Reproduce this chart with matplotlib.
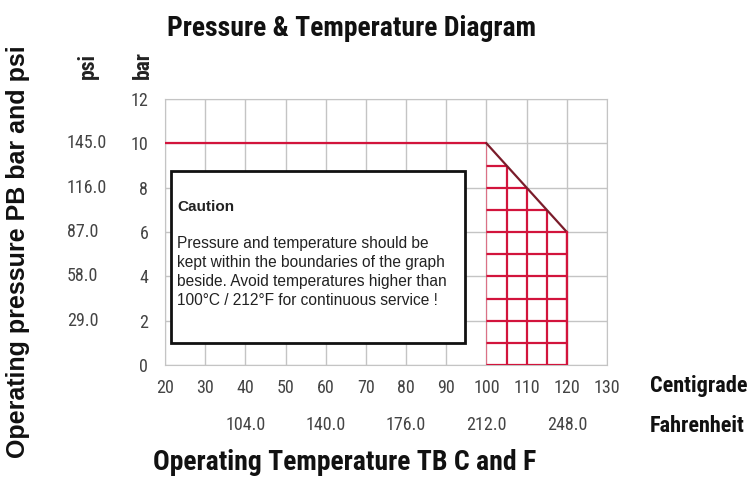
import matplotlib
matplotlib.use("Agg")
import matplotlib.pyplot as plt
import matplotlib.transforms as mtransforms
from matplotlib.patches import Polygon, Rectangle

# data
celsius_ticks = [20, 30, 40, 50, 60, 70, 80, 90, 100, 110, 120, 130]
fahrenheit_pos = [40, 60, 80, 100, 120]
fahrenheit_labels = ["104.0", "140.0", "176.0", "212.0", "248.0"]
bar_ticks = [0, 2, 4, 6, 8, 10, 12]
psi_pos = [10, 8, 6, 4, 2]
psi_labels = ["145.0", "116.0", "87.0", "58.0", "29.0"]

limit_temp = [20, 100, 120, 120]
limit_bar = [10, 10, 6, 0]
hatch_temp = [100, 105, 110, 115, 120]
hatch_bar = [0, 1, 2, 3, 4, 5, 6, 7, 8, 9]

caution_title = "Caution"
caution_lines = ["Pressure and temperature should be",
                 "kept within the boundaries of the graph",
                 "beside. Avoid temperatures higher than",
                 "100\u00b0C / 212\u00b0F for continuous service !"]

narrow = ["Roboto Condensed", "DejaVu Sans"]
sans = ["Liberation Sans", "DejaVu Sans"]
red = "#d2143c"
dark = "#7a1c2a"
grey = "#c4c4c4"
txt_col = "#444444"

fig = plt.figure(figsize=(7.56, 4.93), dpi=100)
ax = fig.add_axes([165/756, 1-365/493, 442/756, 266/493])

ax.set_xlim(20, 130)
ax.set_ylim(0, 12)
ax.set_xticks(celsius_ticks)
ax.set_yticks(bar_ticks)
ax.grid(True, color=grey, lw=1.0)
ax.set_axisbelow(True)
for s in ax.spines.values():
    s.set_color(grey)
ax.tick_params(length=0, colors=txt_col, labelsize=13)
ax.tick_params(axis="x", pad=10)
ax.tick_params(axis="y", pad=12)
for lab in ax.get_xticklabels() + ax.get_yticklabels():
    lab.set_family(narrow)

# allowed region with hatch grid
region = Polygon(list(zip(limit_temp[1:] + [limit_temp[1]], limit_bar[1:] + [0])),
                 closed=True, facecolor="white", edgecolor="none", zorder=2)
ax.add_patch(region)
for t in hatch_temp:
    ln, = ax.plot([t, t], [0, 12], color=red, lw=1.6, zorder=3)
    ln.set_clip_path(region)
for b in hatch_bar:
    ln, = ax.plot([100, 120], [b, b], color=red, lw=1.6, zorder=3)
    ln.set_clip_path(region)

ax.plot(limit_temp[:2], limit_bar[:2], color=red, lw=1.6, zorder=4)
ax.plot(limit_temp[1:3], limit_bar[1:3], color=dark, lw=1.6, zorder=4)
ax.plot(limit_temp[2:], limit_bar[2:], color=red, lw=1.6, zorder=4)

# caution box
ax.add_patch(Rectangle((21.5, 1.0), 73.1, 7.75, facecolor="white",
                       edgecolor="#111111", lw=2, zorder=5))
ax.text(23, 7.13, caution_title, fontsize=11, fontweight="semibold", family=sans,
        color="#222222", va="center", zorder=6)
for i, line in enumerate(caution_lines):
    ax.text(23, 5.50 - 0.857 * i, line, fontsize=11.2, family=sans,
            color="#222222", va="center", zorder=6)

# fahrenheit row
for p, l in zip(fahrenheit_pos, fahrenheit_labels):
    ax.text(p, -2.7, l, ha="center", va="center", fontsize=13,
            family=narrow, color=txt_col)

# psi column
trans = mtransforms.blended_transform_factory(fig.transFigure, ax.transData)
for p, l in zip(psi_pos, psi_labels):
    ax.text(67/756, p, l, transform=trans, ha="left", va="center",
            fontsize=13, family=narrow, color=txt_col)

fig.text(88/756, 1-66/493, "psi", rotation=90, ha="center", va="center",
         fontsize=15.5, fontweight="bold", family=narrow, color="#222222")
fig.text(143/756, 1-65/493, "bar", rotation=90, ha="center", va="center",
         fontsize=15.5, fontweight="bold", family=narrow, color="#222222")
fig.text(18/756, 1-252/493, "Operating pressure PB bar and psi", rotation=90,
         ha="center", va="center", fontsize=18, fontweight="bold",
         family=sans, color="#111111")

fig.text(352/756, 1-28/493, "Pressure & Temperature Diagram", ha="center",
         va="center", fontsize=20, fontweight="bold", family=narrow,
         color="#111111")
fig.text(650/756, 1-386/493, "Centigrade", ha="left", va="center",
         fontsize=16, fontweight="bold", family=narrow, color="#111111")
fig.text(650/756, 1-426/493, "Fahrenheit", ha="left", va="center",
         fontsize=16, fontweight="bold", family=narrow, color="#111111")
fig.text(345/756, 1-462/493, "Operating Temperature TB C and F", ha="center",
         va="center", fontsize=20, fontweight="bold", family=narrow,
         color="#111111")

fig.savefig("out.png", dpi=100, facecolor="white")
